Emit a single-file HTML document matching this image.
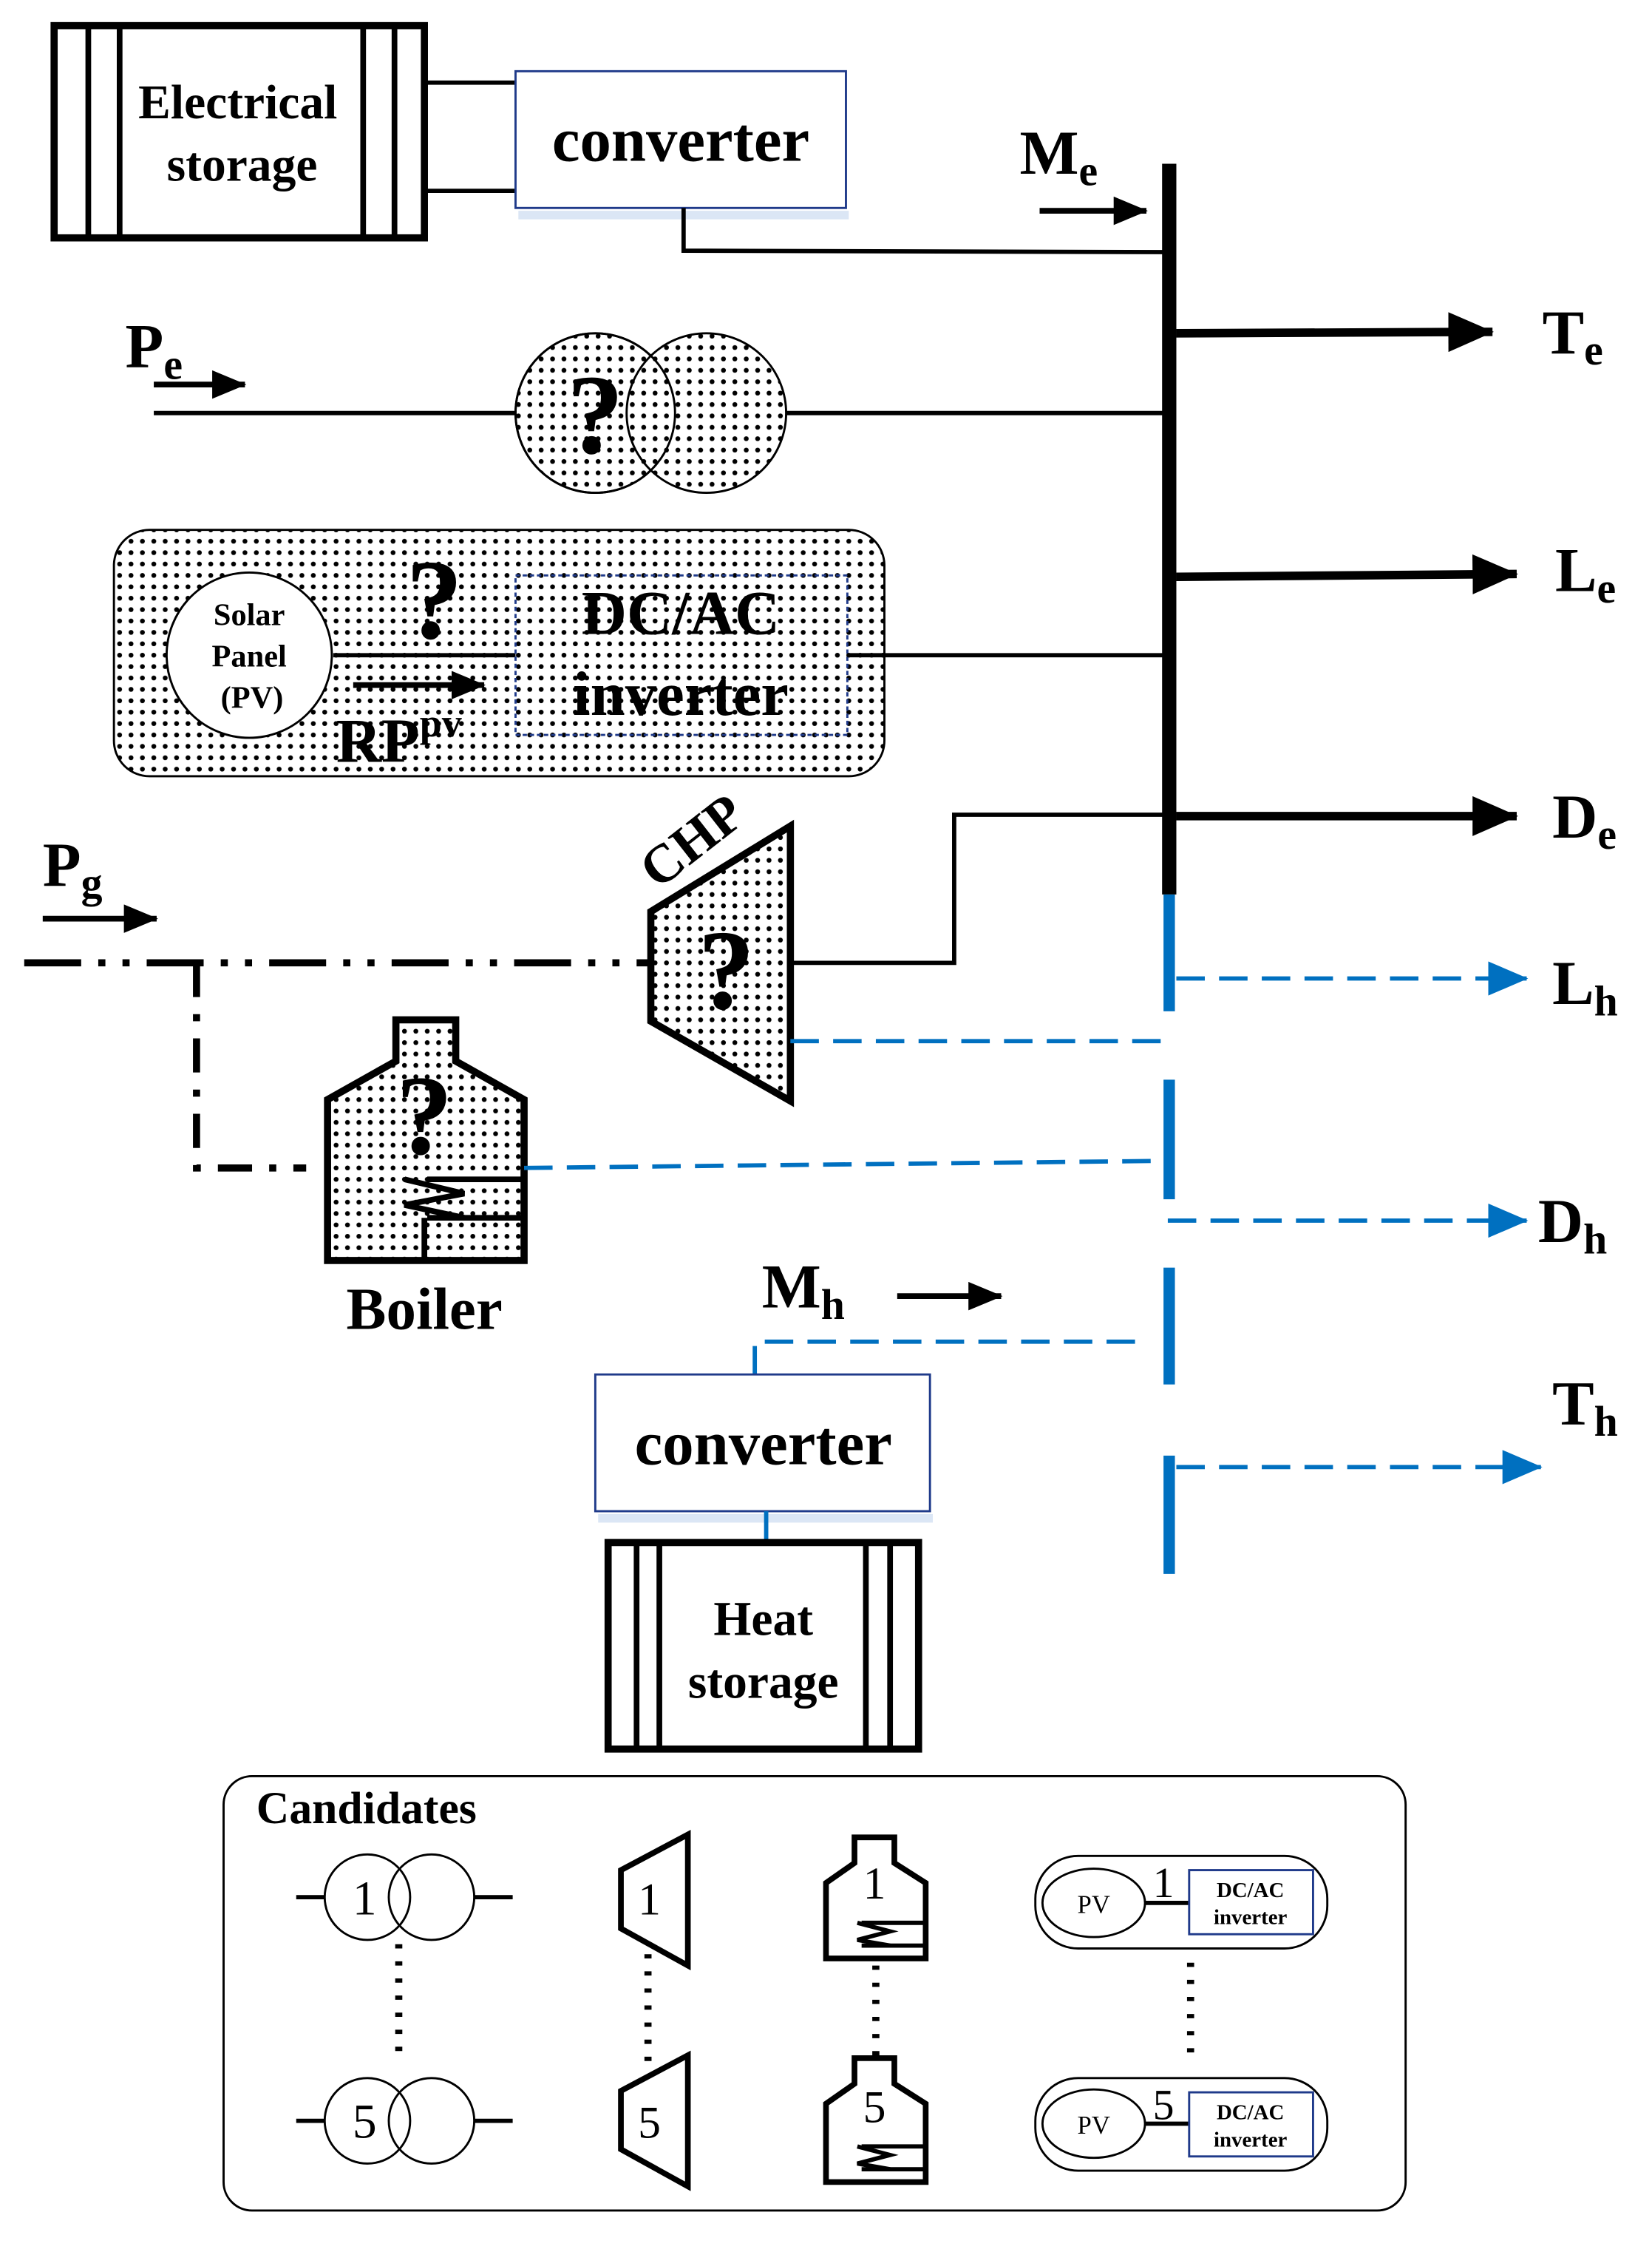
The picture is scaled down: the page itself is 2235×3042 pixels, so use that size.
<!DOCTYPE html>
<html><head><meta charset="utf-8"><style>
html,body{margin:0;padding:0;background:#fff;}
svg{display:block;}
text{font-family:"Liberation Serif",serif;font-weight:bold;fill:#000;}
text.n{font-weight:normal;}
</style></head><body>
<svg width="2235" height="3042" viewBox="0 0 1160 1579" preserveAspectRatio="none" xmlns="http://www.w3.org/2000/svg">
<defs>
<pattern id="dots" width="8" height="8" patternUnits="userSpaceOnUse">
<rect width="8" height="8" fill="#fff"/><circle cx="4" cy="4" r="1.7" fill="#000"/>
</pattern>
<marker id="ab" markerWidth="28" markerHeight="24" refX="27" refY="12" orient="auto" markerUnits="userSpaceOnUse"><path d="M0,0 L28,12 L0,24 Z" fill="#0070c0"/></marker>
<marker id="akb" markerWidth="32" markerHeight="28" refX="31" refY="14" orient="auto" markerUnits="userSpaceOnUse"><path d="M0,0 L32,14 L0,28 Z" fill="#000"/></marker>
<marker id="aks" markerWidth="24" markerHeight="20" refX="23" refY="10" orient="auto" markerUnits="userSpaceOnUse"><path d="M0,0 L24,10 L0,20 Z" fill="#000"/></marker>
</defs>

<rect x="38" y="18" width="260" height="149" fill="#fff" stroke="#000" stroke-width="5"/>
<line x1="62" y1="18" x2="62" y2="167" stroke="#000" stroke-width="4"/>
<line x1="84" y1="18" x2="84" y2="167" stroke="#000" stroke-width="4"/>
<line x1="255" y1="18" x2="255" y2="167" stroke="#000" stroke-width="4"/>
<line x1="277" y1="18" x2="277" y2="167" stroke="#000" stroke-width="4"/>
<text x="167" y="83" font-size="34" text-anchor="middle">Electrical</text>
<text x="170" y="127" font-size="34" text-anchor="middle">storage</text>
<line x1="298" y1="58" x2="362" y2="58" stroke="#000" stroke-width="3"/>
<line x1="298" y1="134" x2="362" y2="134" stroke="#000" stroke-width="3"/>
<rect x="364" y="148" width="232" height="6" fill="#dbe6f5"/>
<rect x="362" y="50" width="232" height="96" fill="#fff" stroke="#1f3a8a" stroke-width="1.5"/>
<text x="478" y="113" font-size="44" text-anchor="middle">converter</text>
<polyline points="480,146 480,176 818,177" fill="none" stroke="#000" stroke-width="3"/>

<text x="716" y="122" font-size="44">M<tspan font-size="30" dy="8">e</tspan></text>
<line x1="730" y1="148" x2="805" y2="148" stroke="#000" stroke-width="4" marker-end="url(#aks)"/>

<line x1="821" y1="115" x2="821" y2="628" stroke="#000" stroke-width="10"/>
<line x1="826" y1="234" x2="1048" y2="233" stroke="#000" stroke-width="6" marker-end="url(#akb)"/>
<text x="1083" y="248" font-size="44">T<tspan font-size="30" dy="8">e</tspan></text>
<line x1="826" y1="405" x2="1065" y2="403" stroke="#000" stroke-width="6" marker-end="url(#akb)"/>
<text x="1092" y="415" font-size="44">L<tspan font-size="30" dy="8">e</tspan></text>
<line x1="826" y1="573" x2="1065" y2="573" stroke="#000" stroke-width="6" marker-end="url(#akb)"/>
<text x="1090" y="588" font-size="44">D<tspan font-size="30" dy="8">e</tspan></text>

<text x="88" y="258" font-size="44">P<tspan font-size="30" dy="8">e</tspan></text>
<line x1="108" y1="270" x2="172" y2="270" stroke="#000" stroke-width="4" marker-end="url(#aks)"/>
<line x1="108" y1="290" x2="362" y2="290" stroke="#000" stroke-width="3"/>
<circle cx="418" cy="290" r="56" fill="url(#dots)" stroke="#000" stroke-width="1.5"/>
<circle cx="496" cy="290" r="56" fill="url(#dots)" stroke="#000" stroke-width="1.5"/>
<circle cx="418" cy="290" r="56" fill="none" stroke="#000" stroke-width="1.5"/>
<text x="418" y="318" font-size="80" text-anchor="middle">?</text>
<line x1="552" y1="290" x2="818" y2="290" stroke="#000" stroke-width="3"/>

<rect x="80" y="372" width="541" height="173" rx="25" fill="url(#dots)" stroke="#000" stroke-width="1.5"/>
<circle cx="175" cy="460" r="58" fill="#fff" stroke="#000" stroke-width="1.5"/>
<text x="175" y="439" font-size="22" text-anchor="middle">Solar</text>
<text x="175" y="468" font-size="22" text-anchor="middle">Panel</text>
<text x="177" y="497" font-size="22" text-anchor="middle">(PV)</text>
<line x1="234" y1="460" x2="362" y2="460" stroke="#000" stroke-width="3"/>
<line x1="248" y1="481" x2="340" y2="481" stroke="#000" stroke-width="4" marker-end="url(#aks)"/>
<text x="236" y="535" font-size="44">RP<tspan font-size="28" dy="-18">pv</tspan></text>
<text x="305" y="448" font-size="80" text-anchor="middle">?</text>
<rect x="362" y="404" width="233" height="112" fill="none" stroke="#1f3a8a" stroke-width="1.5" stroke-dasharray="3,2"/>
<text x="478" y="445" font-size="44" text-anchor="middle">DC/AC</text>
<text x="478" y="502" font-size="44" text-anchor="middle">inverter</text>
<line x1="595" y1="460" x2="818" y2="460" stroke="#000" stroke-width="3"/>

<text x="30" y="622" font-size="44">P<tspan font-size="30" dy="8">g</tspan></text>
<line x1="30" y1="645" x2="110" y2="645" stroke="#000" stroke-width="4" marker-end="url(#aks)"/>
<line x1="17" y1="676" x2="455" y2="676" stroke="#000" stroke-width="5" stroke-dasharray="40,12,5,12,5,12"/>
<polyline points="138,676 138,820 215,820" fill="none" stroke="#000" stroke-width="5" stroke-dasharray="24,12,5,12"/>

<polygon points="457,640 555,580 555,773 457,717" fill="url(#dots)" stroke="#000" stroke-width="5"/>
<text x="0" y="0" font-size="38" transform="translate(462,625) rotate(-38)">CHP</text>
<text x="510" y="708" font-size="80" text-anchor="middle">?</text>
<polyline points="555,676 670,676 670,572 818,572" fill="none" stroke="#000" stroke-width="3"/>
<line x1="555" y1="731" x2="820" y2="731" stroke="#0070c0" stroke-width="3" stroke-dasharray="20,10"/>

<g stroke="#0070c0" stroke-width="8">
<line x1="821" y1="628" x2="821" y2="710"/>
<line x1="821" y1="758" x2="821" y2="842"/>
<line x1="821" y1="890" x2="821" y2="972"/>
<line x1="821" y1="1022" x2="821" y2="1105"/>
</g>
<line x1="826" y1="687" x2="1072" y2="687" stroke="#0070c0" stroke-width="3" stroke-dasharray="20,10" marker-end="url(#ab)"/>
<text x="1090" y="705" font-size="44">L<tspan font-size="30" dy="8">h</tspan></text>
<line x1="820" y1="857" x2="1072" y2="857" stroke="#0070c0" stroke-width="3" stroke-dasharray="20,10" marker-end="url(#ab)"/>
<text x="1080" y="872" font-size="44">D<tspan font-size="30" dy="8">h</tspan></text>
<line x1="826" y1="1030" x2="1082" y2="1030" stroke="#0070c0" stroke-width="3" stroke-dasharray="20,10" marker-end="url(#ab)"/>
<text x="1090" y="1000" font-size="44">T<tspan font-size="30" dy="8">h</tspan></text>

<polygon points="278,716 320,716 320,745 368,772 368,885 230,885 230,772 278,745" fill="url(#dots)" stroke="#000" stroke-width="5"/>
<text x="298" y="810" font-size="80" text-anchor="middle">?</text>
<g stroke="#000" stroke-width="4" fill="none">
<line x1="300" y1="828" x2="368" y2="828"/>
<line x1="300" y1="855" x2="368" y2="855"/>
<polyline points="284,828 326,838 284,846 326,855"/>
<line x1="298" y1="855" x2="298" y2="885"/>
</g>
<text x="298" y="933" font-size="42" text-anchor="middle">Boiler</text>
<line x1="368" y1="820" x2="820" y2="815" stroke="#0070c0" stroke-width="3" stroke-dasharray="20,10"/>

<text x="535" y="918" font-size="44">M<tspan font-size="30" dy="8">h</tspan></text>
<line x1="630" y1="910" x2="703" y2="910" stroke="#000" stroke-width="4" marker-end="url(#aks)"/>
<polyline points="530,965 530,942 803,942" fill="none" stroke="#0070c0" stroke-width="3" stroke-dasharray="20,10"/>
<rect x="420" y="1063" width="235" height="6" fill="#dbe6f5"/>
<rect x="418" y="965" width="235" height="96" fill="#fff" stroke="#1f3a8a" stroke-width="1.5"/>
<text x="536" y="1028" font-size="44" text-anchor="middle">converter</text>
<line x1="538" y1="1061" x2="538" y2="1083" stroke="#0070c0" stroke-width="3"/>

<rect x="427" y="1083" width="218" height="145" fill="#fff" stroke="#000" stroke-width="5"/>
<line x1="447" y1="1083" x2="447" y2="1228" stroke="#000" stroke-width="4"/>
<line x1="463" y1="1083" x2="463" y2="1228" stroke="#000" stroke-width="4"/>
<line x1="608" y1="1083" x2="608" y2="1228" stroke="#000" stroke-width="4"/>
<line x1="625" y1="1083" x2="625" y2="1228" stroke="#000" stroke-width="4"/>
<text x="536" y="1148" font-size="34" text-anchor="middle">Heat</text>
<text x="536" y="1192" font-size="34" text-anchor="middle">storage</text>

<rect x="157" y="1247" width="830" height="305" rx="20" fill="none" stroke="#000" stroke-width="1.5"/>
<text x="180" y="1280" font-size="32">Candidates</text>
<g stroke="#000" fill="none">
<circle cx="258" cy="1332" r="30" stroke-width="1.5"/><circle cx="303" cy="1332" r="30" stroke-width="1.5"/>
<line x1="208" y1="1332" x2="228" y2="1332" stroke-width="3"/><line x1="333" y1="1332" x2="360" y2="1332" stroke-width="3"/>
<circle cx="258" cy="1489" r="30" stroke-width="1.5"/><circle cx="303" cy="1489" r="30" stroke-width="1.5"/>
<line x1="208" y1="1489" x2="228" y2="1489" stroke-width="3"/><line x1="333" y1="1489" x2="360" y2="1489" stroke-width="3"/>
<line x1="280" y1="1365" x2="280" y2="1445" stroke-width="5" stroke-dasharray="3,9"/>
<polygon points="436,1313 483,1288 483,1380 436,1354" stroke-width="4"/>
<polygon points="436,1468 483,1443 483,1535 436,1509" stroke-width="4"/>
<line x1="455" y1="1372" x2="455" y2="1450" stroke-width="5" stroke-dasharray="3,9"/>
<polygon points="600,1290 628,1290 628,1308 650,1322 650,1375 580,1375 580,1322 600,1308" stroke-width="4"/>
<polygon points="600,1445 628,1445 628,1463 650,1477 650,1532 580,1532 580,1477 600,1463" stroke-width="4"/>
<line x1="605" y1="1350" x2="650" y2="1350" stroke-width="3"/><line x1="605" y1="1366" x2="650" y2="1366" stroke-width="3"/>
<polyline points="602,1350 625,1356 602,1362 625,1366" stroke-width="3"/>
<line x1="605" y1="1507" x2="650" y2="1507" stroke-width="3"/><line x1="605" y1="1523" x2="650" y2="1523" stroke-width="3"/>
<polyline points="602,1507 625,1513 602,1519 625,1523" stroke-width="3"/>
<line x1="615" y1="1380" x2="615" y2="1445" stroke-width="5" stroke-dasharray="3,9"/>
<rect x="727" y="1303" width="205" height="65" rx="30" stroke-width="1.5"/>
<ellipse cx="768" cy="1336" rx="36" ry="24" stroke-width="1.5"/>
<line x1="804" y1="1336" x2="835" y2="1336" stroke-width="3"/>
<rect x="835" y="1313" width="87" height="45" stroke="#1f3a8a" stroke-width="1.5"/>
<rect x="727" y="1459" width="205" height="65" rx="30" stroke-width="1.5"/>
<ellipse cx="768" cy="1491" rx="36" ry="24" stroke-width="1.5"/>
<line x1="804" y1="1491" x2="835" y2="1491" stroke-width="3"/>
<rect x="835" y="1469" width="87" height="45" stroke="#1f3a8a" stroke-width="1.5"/>
<line x1="836" y1="1378" x2="836" y2="1445" stroke-width="5" stroke-dasharray="3,9"/>
</g>
<text class="n" x="256" y="1344" font-size="34" text-anchor="middle">1</text>
<text class="n" x="256" y="1501" font-size="34" text-anchor="middle">5</text>
<text class="n" x="456" y="1344" font-size="32" text-anchor="middle">1</text>
<text class="n" x="456" y="1501" font-size="32" text-anchor="middle">5</text>
<text class="n" x="614" y="1333" font-size="32" text-anchor="middle">1</text>
<text class="n" x="614" y="1490" font-size="32" text-anchor="middle">5</text>
<text class="n" x="768" y="1343" font-size="18" text-anchor="middle">PV</text>
<text class="n" x="768" y="1498" font-size="18" text-anchor="middle">PV</text>
<text class="n" x="817" y="1332" font-size="30" text-anchor="middle">1</text>
<text class="n" x="817" y="1488" font-size="30" text-anchor="middle">5</text>
<text x="878" y="1332" font-size="15" text-anchor="middle">DC/AC</text>
<text x="878" y="1351" font-size="15" text-anchor="middle">inverter</text>
<text x="878" y="1488" font-size="15" text-anchor="middle">DC/AC</text>
<text x="878" y="1507" font-size="15" text-anchor="middle">inverter</text>
</svg>
</body></html>
